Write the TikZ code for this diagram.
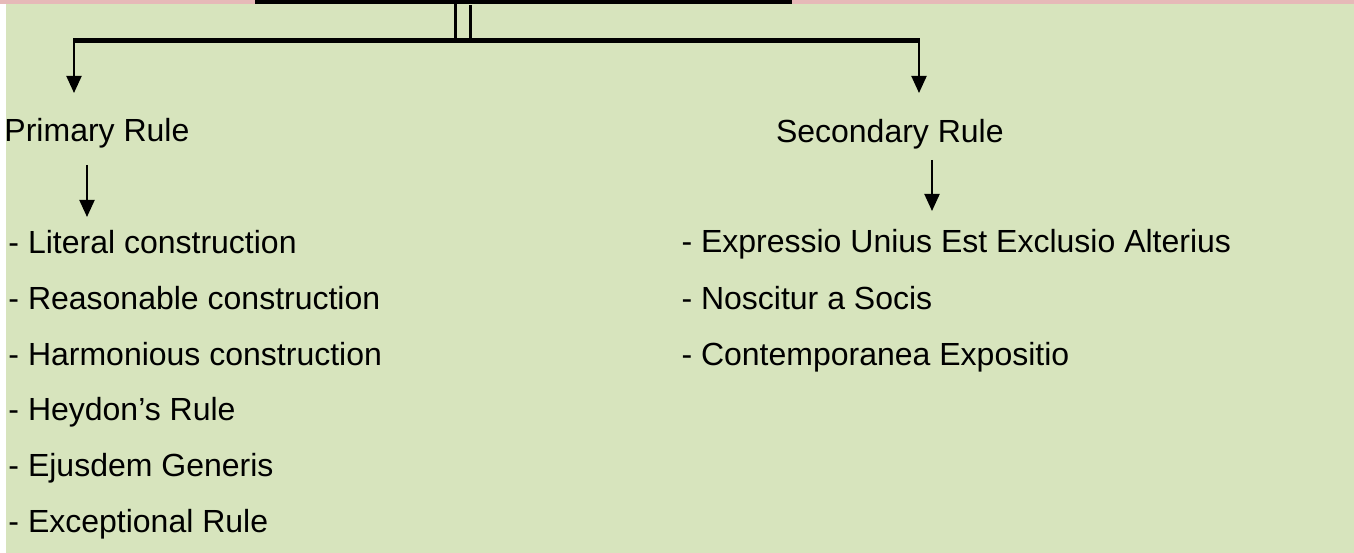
\documentclass[tikz,border=0pt]{standalone}
\usepackage{fontspec}
\setmainfont{Liberation Sans}
\usetikzlibrary{arrows.meta}
\definecolor{panelgreen}{HTML}{D7E4BD}
\definecolor{stripred}{HTML}{E6B9B8}
\tikzset{
  label/.style={anchor=base west, inner sep=0pt, outer sep=0pt,
    font=\fontsize{32}{38}\selectfont},
  branch/.style={line width=2pt, -{Triangle[length=17pt,width=15pt]}},
  trunk/.style={line width=2.7pt},
}
\begin{document}
\begin{tikzpicture}[x=1pt, y=-1pt]
  \useasboundingbox (0,0) rectangle (1354,553);
  % background panel and top strip
  \fill[panelgreen] (6,0) rectangle (1354,553);
  \fill[stripred] (0,0) rectangle (1354,4);
  \node[fill=black, inner sep=0pt, minimum width=537pt, minimum height=4pt,
        anchor=north west] (head) at (255,0) {};
  % horizontal distribution bar
  \coordinate (barL) at (73,38.3);
  \coordinate (barR) at (920,38.3);
  \fill[black] (73,38.3) rectangle (920,43.3);
  % double trunk from the heading to the bar
  \coordinate (tA) at (455.5,38.3);
  \coordinate (tB) at (470.5,38.3);
  \draw[trunk] (head.south -| tA) -- (tA);
  \draw[trunk] (head.south -| tB) ++(0,1) -- (tB);
  % category labels
  \node[label] (prim) at (4.5,142) {Primary Rule};
  \node[label] (sec) at (776,143) {Secondary Rule};
  % arrows from the bar to the categories
  \coordinate (tipL) at (74,93);
  \coordinate (tipR) at (919,93);
  \draw[branch] (barL -| tipL) -- (tipL);
  \draw[branch] (barR -| tipR) -- (tipR);
  % primary rules
  \node[label] (p1) at (8.5,254) {- Literal construction};
  \node[label] (p2) at (8.5,309.6) {- Reasonable construction};
  \node[label] (p3) at (8.5,365.2) {- Harmonious construction};
  \node[label] (p4) at (8.5,420.8) {- Heydon’s Rule};
  \node[label] (p5) at (8.5,476.4) {- Ejusdem Generis};
  \node[label] (p6) at (8.5,532) {- Exceptional Rule};
  % secondary rules
  \node[label] (s1) at (681.5,253) {- Expressio Unius Est Exclusio Alterius};
  \node[label] (s2) at (681.5,309) {- Noscitur a Socis};
  \node[label] (s3) at (681.5,365) {- Contemporanea Expositio};
  % arrows from the categories to their lists
  \coordinate (pa) at (87,165);
  \coordinate (pb) at (87,217);
  \coordinate (sa) at (932,160);
  \coordinate (sb) at (932,211);
  \draw[branch] (pa) -- (pb);
  \draw[branch] (sa) -- (sb);
\end{tikzpicture}
\end{document}
